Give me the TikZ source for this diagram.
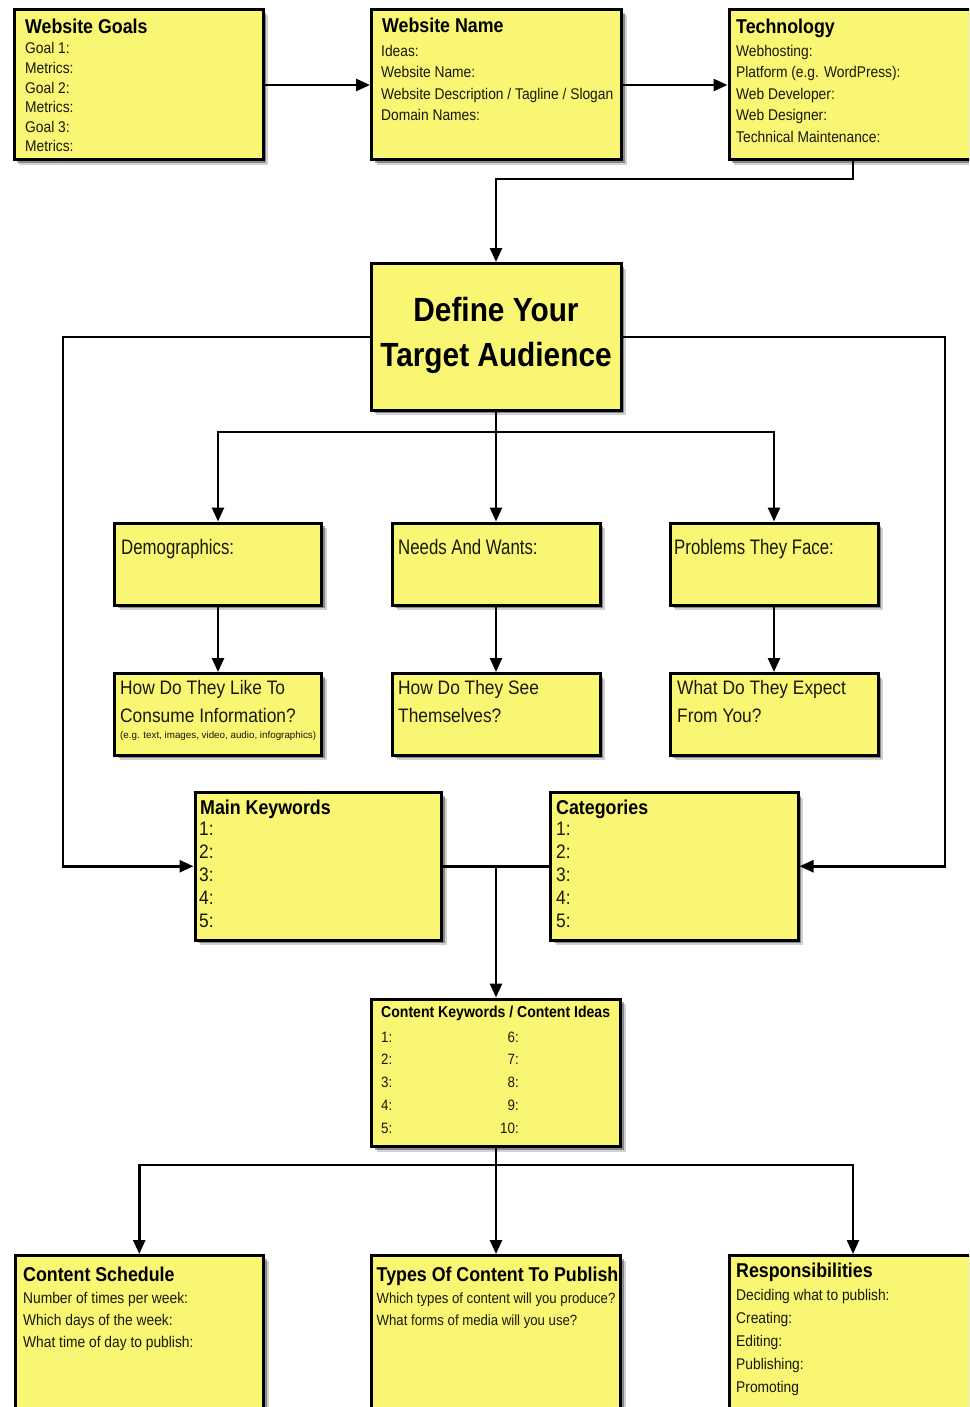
\documentclass[tikz,border=0pt]{standalone}
\usepackage{fontspec}
\setmainfont{Liberation Sans}
\newfontfamily\fN{Liberation Sans}[FakeStretch=0.89]
\newfontfamily\fC{Liberation Sans}[FakeStretch=0.8]
\usetikzlibrary{arrows.meta,shadows}
\definecolor{yfill}{RGB}{248,246,114}
\definecolor{itxt}{RGB}{25,25,15}
\tikzset{
  box/.style={draw=black, line width=3pt, fill=yfill, inner sep=0pt, outer sep=0pt, anchor=north west,
    drop shadow={shadow xshift=3pt, shadow yshift=-3pt, fill=black, opacity=0.35},
    drop shadow={shadow xshift=5pt, shadow yshift=-5pt, fill=black, opacity=0.18}},
  ttl/.style={font=\fN\bfseries\fontsize{20}{20}\selectfont, anchor=base west, inner sep=0pt},
  itm/.style={font=\fN\fontsize{15.5}{15.5}\selectfont, text=itxt, anchor=base west, inner sep=0pt},
  one/.style={font=\fC\fontsize{21}{21}\selectfont, text=itxt, anchor=base west, inner sep=0pt},
  two/.style={font=\fN\fontsize{19.5}{19.5}\selectfont, text=itxt, anchor=base west, inner sep=0pt},
  dfn/.style={font=\fN\bfseries\fontsize{33.5}{33.5}\selectfont, anchor=base, inner sep=0pt},
  num/.style={font=\fN\fontsize{19.5}{19.5}\selectfont, text=itxt, anchor=base west, inner sep=0pt},
  ckt/.style={font=\fN\bfseries\fontsize{15.8}{15.8}\selectfont, anchor=base west, inner sep=0pt},
  cki/.style={font=\fN\fontsize{15}{15}\selectfont, text=itxt, inner sep=0pt},
  tiny/.style={font=\fontsize{9.8}{9.8}\selectfont, text=itxt, anchor=base west, inner sep=0pt},
  ln/.style={line width=2.5pt},
  conn/.style={line width=2.5pt, shorten >=1.5pt, -{Triangle[length=14pt,width=12pt]}}
}
\begin{document}
\begin{tikzpicture}[x=1pt,y=-1pt]
\useasboundingbox (0,0) rectangle (969,1407);
\fill[white] (0,0) rectangle (969,1407);
\clip (0,0) rectangle (969,1407);

% ---------- top row ----------
\node[box, minimum width=249pt, minimum height=150pt] (goals) at (14,10) {};
\node[box, minimum width=250pt, minimum height=150pt] (wname) at (371.5,10) {};
\node[box, minimum width=248pt, minimum height=150pt] (tech) at (729,10) {};

\node[ttl] (goals-t) at (25,34) {Website Goals};
\foreach \t [count=\i] in {Goal 1:, Metrics:, Goal 2:, Metrics:, Goal 3:, Metrics:}
  \node[itm] (goals-\i) at (25,{54+(\i-1)*19.6}) {\t};

\node[ttl] (wname-t) at (382,33) {Website Name};
\foreach \t [count=\i] in {Ideas:, Website Name:, Website Description / Tagline / Slogan, Domain Names:}
  \node[itm] (wname-\i) at (381,{56.5+(\i-1)*21.5}) {\t};

\node[ttl] (tech-t) at (736,34) {Technology};
\foreach \t [count=\i] in {Webhosting:, Platform (e.g. WordPress):, Web Developer:, Web Designer:, Technical Maintenance:}
  \node[itm] (tech-\i) at (736,{56.5+(\i-1)*21.5}) {\t};

% ---------- define ----------
\node[box, minimum width=250pt, minimum height=146.5pt] (define) at (371,263.5) {};
\node[dfn] (define-1) at (496,321) {Define Your};
\node[dfn] (define-2) at (496,366) {Target Audience};

% ---------- audience rows ----------
\node[box, minimum width=207pt, minimum height=82pt] (demo) at (114.5,523) {};
\node[box, minimum width=208pt, minimum height=82pt] (needs) at (392,523) {};
\node[box, minimum width=208pt, minimum height=82pt] (prob) at (670,523) {};
\node[one] (demo-t) at (121,554) {Demographics:};
\node[one] (needs-t) at (398,554) {Needs And Wants:};
\node[one] (prob-t) at (674,554) {Problems They Face:};

\node[box, minimum width=207pt, minimum height=81.5pt] (consume) at (114.5,673.5) {};
\node[box, minimum width=208pt, minimum height=81.5pt] (see) at (392,673.5) {};
\node[box, minimum width=208pt, minimum height=81.5pt] (expect) at (670,673.5) {};
\node[two] (consume-1) at (120,694) {How Do They Like To};
\node[two] (consume-2) at (120,722) {Consume Information?};
\node[tiny] (consume-3) at (120,738) {(e.g. text, images, video, audio, infographics)};
\node[two] (see-1) at (398,694) {How Do They See};
\node[two] (see-2) at (398,722) {Themselves?};
\node[two] (expect-1) at (677,694) {What Do They Expect};
\node[two] (expect-2) at (677,722) {From You?};

% ---------- keywords / categories ----------
\node[box, minimum width=246.5pt, minimum height=147.5pt] (kw) at (195,792.5) {};
\node[box, minimum width=247.5pt, minimum height=147.5pt] (cat) at (550.5,792.5) {};
\node[ttl] (kw-t) at (200,814) {Main Keywords};
\node[ttl] (cat-t) at (556,814) {Categories};
\foreach \i in {1,...,5} {
  \node[num] (kw-\i) at (199,{835+(\i-1)*23}) {\i:};
  \node[num] (cat-\i) at (556,{835+(\i-1)*23}) {\i:};
}

% ---------- content keywords ----------
\node[box, minimum width=249pt, minimum height=147.5pt] (ck) at (371.5,999) {};
\node[ckt] (ck-t) at (381,1017) {Content Keywords / Content Ideas};
\foreach \i in {1,...,5} {
  \node[cki, anchor=base west] (ckl-\i) at (381,{1042+(\i-1)*22.8}) {\i:};
  \pgfmathtruncatemacro{\j}{\i+5}
  \node[cki, anchor=base east] (ckr-\i) at (519,{1042+(\i-1)*22.8}) {\j:};
}

% ---------- bottom row ----------
\node[box, minimum width=248.5pt, minimum height=170pt] (sched) at (15,1255.5) {};
\node[box, minimum width=249pt, minimum height=170pt] (types) at (371.5,1255.5) {};
\node[box, minimum width=248pt, minimum height=170pt] (resp) at (729,1255.5) {};

\node[ttl] (sched-t) at (23,1281) {Content Schedule};
\foreach \t [count=\i] in {Number of times per week:, Which days of the week:, What time of day to publish:}
  \node[itm] (sched-\i) at (23,{1303+(\i-1)*22}) {\t};

\node[ttl] (types-t) at (376.5,1281) {Types Of Content To Publish};
\foreach \t [count=\i] in {Which types of content will you produce?, What forms of media will you use?}
  \node[itm, font=\fN\fontsize{14.8}{14.8}\selectfont] (types-\i) at (376.5,{1303+(\i-1)*22}) {\t};

\node[ttl] (resp-t) at (736,1277) {Responsibilities};
\foreach \t [count=\i] in {Deciding what to publish:, Creating:, Editing:, Publishing:, Promoting}
  \node[itm] (resp-\i) at (736,{1300+(\i-1)*23}) {\t};

% ---------- connectors ----------
\coordinate (hy0) at (0,179);
\coordinate (hy1) at (0,432);
\coordinate (hy2) at (0,1165);
\coordinate (lx) at (63,0);
\coordinate (rx) at (945,0);
\coordinate (c1) at (define.north |- hy0);
\coordinate (br1) at (define.south |- hy1);
\coordinate (mid) at (ck.north |- kw.east);
\coordinate (br2) at (ck.south |- hy2);

\draw[conn] (goals.east) -- (wname.west);
\draw[conn] (wname.east) -- (tech.west);
\draw[conn] (tech.south) |- (c1) -- (define.north);

\draw[conn] (define.west) -| (lx |- kw.west) -- (kw.west);
\draw[conn] (define.east) -| (rx |- cat.east) -- (cat.east);

\draw[conn] (define.south) -- (needs.north);
\draw[conn] (br1) -| (demo.north);
\draw[conn] (br1) -| (prob.north);

\draw[conn] (demo.south) -- (consume.north);
\draw[conn] (needs.south) -- (see.north);
\draw[conn] (prob.south) -- (expect.north);

\draw[ln] (kw.east) -- (cat.west);
\draw[conn] (mid) -- (ck.north);

\draw[conn] (ck.south) -- (types.north);
\draw[conn] (br2) -| (sched.north);
\draw[conn] (br2) -| (resp.north);
\end{tikzpicture}
\end{document}
